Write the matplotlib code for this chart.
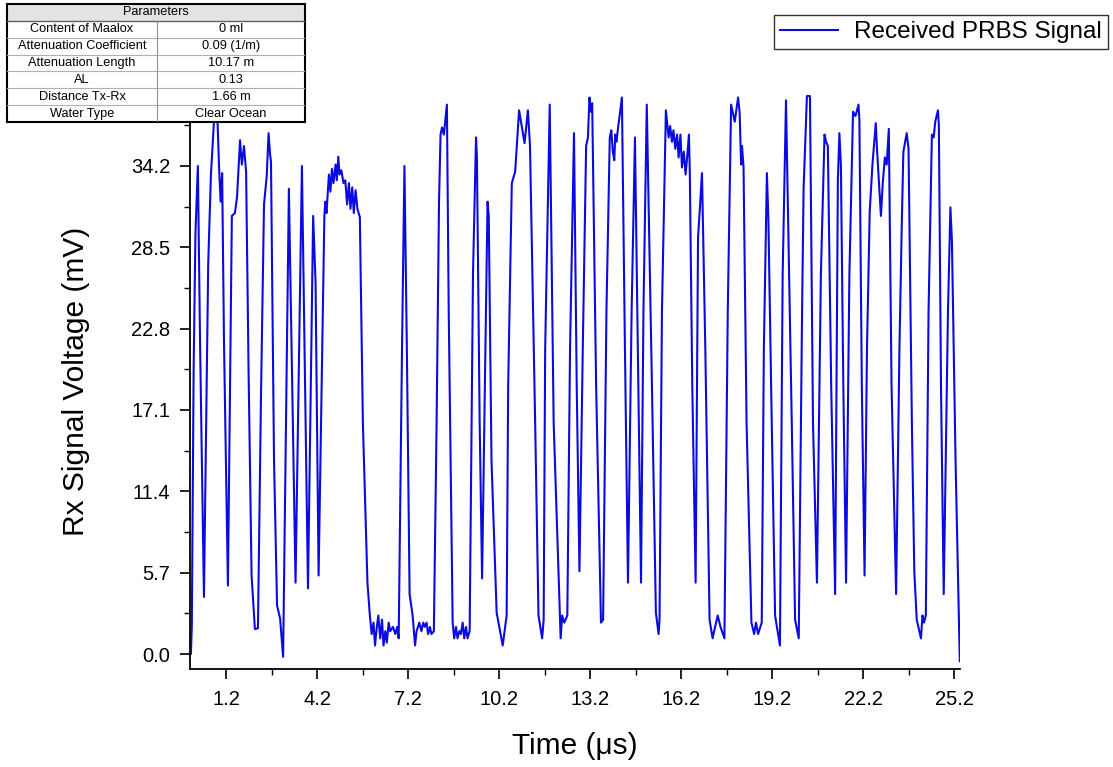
import matplotlib
matplotlib.use("Agg")
import matplotlib.pyplot as plt
from matplotlib.patches import Rectangle
import numpy as np

plt.rcParams['font.family'] = ['Liberation Sans', 'DejaVu Sans']

# ---------------- data ----------------
time_us = [
    0.00, 0.03, 0.06, 0.12, 0.18, 0.26, 0.33, 0.46,
    0.60, 0.69, 0.79, 0.86, 0.91, 0.96, 1.01, 1.06, 1.12, 1.25,
    1.38, 1.48, 1.55, 1.65, 1.71, 1.78, 1.85, 1.93, 2.03, 2.14, 2.24,
    2.34, 2.44, 2.53, 2.59, 2.64, 2.67, 2.77, 2.87, 2.97, 3.07,
    3.26, 3.48, 3.69, 3.89, 4.06, 4.14, 4.24,
    4.43, 4.46, 4.50, 4.58, 4.63, 4.68, 4.73, 4.80, 4.84, 4.89, 4.93, 4.99, 5.06, 5.12,
    5.18, 5.24, 5.29, 5.35, 5.40, 5.46, 5.52, 5.60,
    5.70, 5.85, 5.93, 5.99, 6.05, 6.10, 6.16, 6.21, 6.27, 6.33, 6.38, 6.44, 6.49, 6.55,
    6.60, 6.69, 6.77, 6.83, 6.88,
    6.99, 7.07, 7.15, 7.24, 7.34, 7.42, 7.47, 7.56, 7.63, 7.69, 7.74, 7.80, 7.85, 7.91, 7.96, 8.04,
    8.13, 8.21, 8.26, 8.31, 8.37, 8.47, 8.53, 8.66, 8.71, 8.77, 8.82, 8.88, 8.93, 8.99, 9.04, 9.10, 9.15, 9.22,
    9.33, 9.43, 9.46, 9.55, 9.63, 9.81, 9.85, 9.94, 10.11, 10.31, 10.44,
    10.49, 10.61, 10.72, 10.85, 11.03, 11.14, 11.21, 11.38, 11.49, 11.61, 11.66,
    11.71, 11.86, 11.99, 12.22, 12.27, 12.34, 12.44,
    12.53, 12.66, 12.75, 12.84,
    12.95, 13.06, 13.12, 13.17, 13.22, 13.26, 13.39, 13.55, 13.62,
    13.73, 13.84, 13.89, 13.94, 13.99, 14.02, 14.06, 14.12, 14.17, 14.24,
    14.34, 14.44, 14.56, 14.67, 14.78, 14.87, 14.95, 15.06, 15.23, 15.36, 15.45, 15.48,
    15.56, 15.69, 15.78, 15.83, 15.89, 15.94, 16.00, 16.06, 16.11, 16.17, 16.22, 16.28, 16.34, 16.39, 16.45, 16.48,
    16.56, 16.67, 16.75, 16.81, 16.88, 16.99, 17.13, 17.23, 17.28, 17.40, 17.49, 17.62,
    17.73, 17.84, 17.96, 18.07, 18.12, 18.17, 18.20, 18.25, 18.35, 18.51, 18.60, 18.66, 18.73, 18.85,
    18.92, 19.02, 19.07, 19.18, 19.29, 19.45,
    19.54, 19.65, 19.84, 19.95, 20.07,
    20.18, 20.23, 20.34, 20.44, 20.54, 20.67,
    20.80, 20.92, 20.97, 21.03, 21.14, 21.27,
    21.36, 21.41, 21.46, 21.54, 21.63,
    21.74, 21.86, 21.94, 22.04, 22.07, 22.15, 22.24,
    22.32, 22.41, 22.50, 22.61, 22.65, 22.78, 22.84, 22.91, 22.97, 23.04, 23.13, 23.28,
    23.39, 23.47, 23.52, 23.63, 23.69, 23.80, 23.88, 23.96, 24.10, 24.15, 24.20, 24.26,
    24.35, 24.46, 24.52, 24.57, 24.66, 24.69, 24.76, 24.85,
    24.99, 25.07, 25.12, 25.24, 25.38,
]
voltage_mv = [
    1.2, 0.0, 2.0, 20.0, 29.5, 34.2, 22.0, 4.0,
    27.3, 33.6, 37.3, 37.4, 37.2, 34.0, 31.7, 33.7, 22.0, 4.8,
    30.7, 30.9, 32.0, 36.0, 34.3, 35.6, 33.8, 20.0, 5.5, 1.75, 1.8,
    18.0, 31.5, 33.5, 36.5, 35.0, 34.5, 13.6, 3.4, 2.5, -0.2,
    32.6, 5.0, 34.2, 4.6, 30.7, 26.0, 5.5,
    30.7, 31.7, 30.9, 33.6, 32.4, 34.0, 33.0, 34.3, 33.2, 34.85, 33.6, 33.9, 33.0, 33.2,
    31.5, 33.0, 31.2, 32.7, 30.9, 32.5, 31.2, 30.6,
    16.2, 5.0, 2.7, 1.4, 2.2, 0.6, 1.9, 2.7, 1.1, 2.4, 0.6, 1.6, 0.8, 2.2,
    1.6, 1.9, 1.4, 1.9, 1.1,
    21.4, 34.2, 21.4, 4.2, 2.7, 0.6, 1.6, 2.2, 1.6, 2.2, 1.9, 2.2, 1.4, 1.9, 1.4, 1.6,
    16.2, 31.7, 36.4, 36.9, 36.4, 38.5, 24.0, 2.2, 1.1, 1.9, 1.1, 1.6, 1.4, 2.2, 1.1, 1.9, 1.1, 1.6,
    26.6, 36.2, 34.8, 16.2, 5.3, 31.7, 30.7, 13.6, 2.9, 0.6, 2.7,
    18.8, 33.0, 33.8, 38.1, 35.8, 38.1, 35.6, 16.2, 2.7, 1.1, 2.4,
    21.4, 38.5, 16.2, 1.1, 2.7, 2.2, 2.7,
    21.4, 36.5, 18.8, 5.8,
    21.4, 35.6, 36.2, 39.0, 38.0, 38.6, 18.8, 2.2, 2.4,
    24.0, 36.2, 36.7, 35.2, 34.6, 36.4, 35.9, 37.0, 37.8, 39.0,
    21.4, 5.0, 24.0, 36.2, 18.8, 5.0, 24.0, 38.5, 18.8, 2.9, 1.4, 2.4,
    24.0, 38.1, 36.2, 37.0, 35.9, 36.7, 35.4, 36.4, 34.8, 36.4, 34.1, 35.2, 33.6, 34.8, 36.4, 33.6,
    18.8, 5.0, 29.2, 31.2, 33.7, 21.4, 2.4, 1.1, 1.6, 2.7, 1.9, 1.1,
    24.0, 38.5, 37.3, 39.0, 38.0, 34.3, 35.6, 34.1, 16.2, 2.2, 1.4, 2.2, 1.4, 2.2,
    21.4, 33.7, 30.4, 16.2, 2.7, 0.6,
    26.6, 38.8, 16.2, 2.4, 1.1,
    24.0, 32.6, 39.1, 39.1, 16.2, 5.0,
    26.6, 36.4, 35.9, 35.6, 18.8, 4.2,
    33.2, 36.5, 34.3, 18.8, 5.0,
    26.6, 38.0, 37.7, 38.5, 37.4, 18.8, 5.5,
    21.4, 31.0, 34.3, 37.2, 35.4, 30.7, 33.0, 34.8, 34.3, 36.8, 18.8, 4.2,
    21.4, 30.4, 35.2, 36.5, 35.4, 16.2, 5.8, 2.4, 1.1, 2.7, 2.2, 2.7,
    24.0, 36.4, 36.2, 37.3, 38.1, 37.0, 18.8, 4.2,
    24.0, 31.3, 29.0, 13.6, -0.5,
]

x_ticks = [1.2, 4.2, 7.2, 10.2, 13.2, 16.2, 19.2, 22.2, 25.2]
y_ticks = [0.0, 5.7, 11.4, 17.1, 22.8, 28.5, 34.2]

param_names = ["Content of Maalox", "Attenuation Coefficient", "Attenuation Length",
               "AL", "Distance Tx-Rx", "Water Type"]
param_values = ["0 ml", "0.09 (1/m)", "10.17 m", "0.13", "1.66 m", "Clear Ocean"]

# ---------------- figure ----------------
W, H = 1113, 767
fig = plt.figure(figsize=(W / 100, H / 100), dpi=100)

ax = fig.add_axes([190 / W, 1 - 669 / H, 770.4 / W, (669 - 93.2) / H])
ax.plot(time_us, voltage_mv, color='#0b0be0', lw=1.5, label='Received PRBS Signal')

ax.set_xlim(0, 25.4)
ax.set_ylim(-1.05, 39.3)
ax.set_xticks(x_ticks)
ax.set_xticklabels([f"{v:.1f}" for v in x_ticks])
ax.set_yticks(y_ticks)
ax.set_yticklabels([f"{v:.1f}" for v in y_ticks])
ax.set_xticks([t + 1.5 for t in x_ticks[:-1]], minor=True)
ax.set_yticks([v + 2.85 for v in y_ticks], minor=True)

for s in ['top', 'right']:
    ax.spines[s].set_visible(False)
for s in ['left', 'bottom']:
    ax.spines[s].set_linewidth(1.3)

ax.tick_params(which='major', direction='out', length=7, width=1.2, labelsize=14.5, pad=8)
ax.tick_params(which='minor', direction='out', length=4, width=1.0)
ax.tick_params(axis='y', which='major', pad=7)

ax.set_xlabel('Time (μs)', fontsize=21.5, labelpad=17)
ax.set_ylabel('Rx Signal Voltage (mV)', fontsize=21.5, labelpad=30)

# legend
leg = fig.legend(loc='upper right', bbox_to_anchor=(1108 / W, 1 - 15 / H),
                 borderaxespad=0, fancybox=False, frameon=True, edgecolor='black',
                 fontsize=17.5, handlelength=2.4, handletextpad=0.65, borderpad=0.25)
leg.get_frame().set_linewidth(1.0)

# parameter table
tx0, ty_top, tw, th = 7, 4, 298, 118
tax = fig.add_axes([tx0 / W, 1 - (ty_top + th) / H, tw / W, th / H], zorder=5)
tax.set_xlim(0, 1)
tax.set_ylim(0, 7)
tax.axis('off')
tax.add_patch(Rectangle((0, 0), 1, 7, facecolor='white', edgecolor='none'))
tax.add_patch(Rectangle((0, 6), 1, 1, facecolor='#e3e3e3', edgecolor='none'))
split = 0.503
for r in range(1, 6):
    tax.plot([0, 1], [r, r], color='#b0b0b0', lw=0.8)
tax.plot([0, 1], [6, 6], color='#606060', lw=1.0)
tax.plot([split, split], [0, 6], color='#909090', lw=0.8)
tax.add_patch(Rectangle((0, 0), 1, 7, facecolor='none', edgecolor='black', lw=1.5, clip_on=False))
tax.text(0.5, 6.5, 'Parameters', ha='center', va='center', fontsize=9.2)
for i, (nm, val) in enumerate(zip(param_names, param_values)):
    yc = 5.5 - i
    tax.text(split / 2, yc, nm, ha='center', va='center', fontsize=9.2)
    tax.text((1 + split) / 2, yc, val, ha='center', va='center', fontsize=9.2)

fig.savefig('out.png', dpi=100)
